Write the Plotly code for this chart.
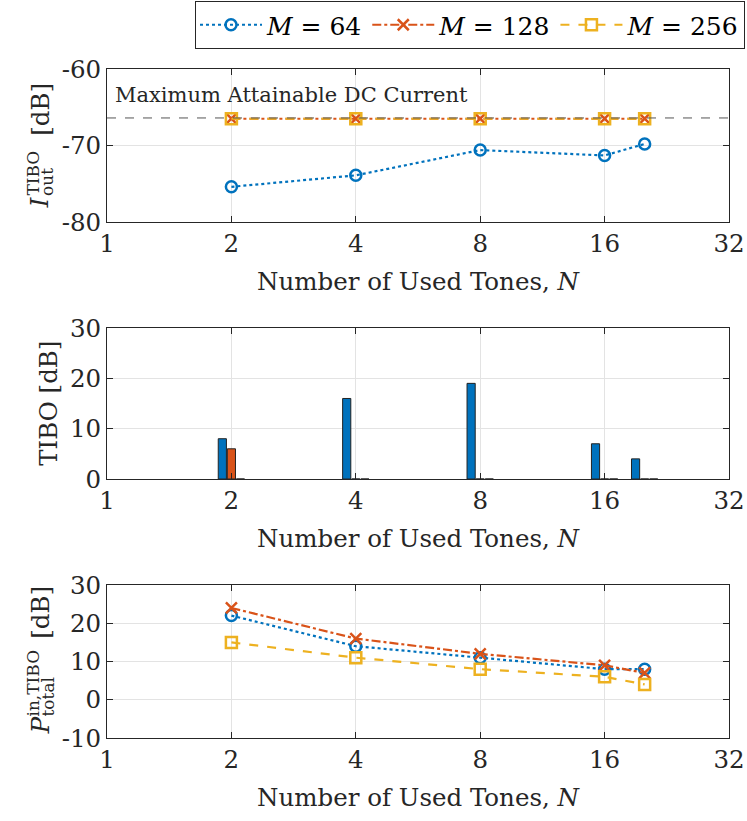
import numpy as np
import plotly.graph_objects as go
from plotly.subplots import make_subplots

# ---- data ----
N = [2, 4, 8, 16, 20]
labels = ["<i>M</i> = 64", "<i>M</i> = 128", "<i>M</i> = 256"]
I_out_64 = [-75.4, -73.9, -70.6, -71.3, -69.8]
I_out_128 = [-66.5, -66.5, -66.5, -66.5, -66.5]
I_out_256 = [-66.5, -66.5, -66.5, -66.5, -66.5]
max_dc = -66.4
TIBO_64 = [8, 16, 19, 7, 4]
TIBO_128 = [6, 0, 0, 0, 0]
TIBO_256 = [0, 0, 0, 0, 0]
P_in_64 = [22, 14, 11, 8, 8]
P_in_128 = [24, 16, 12, 9, 7]
P_in_256 = [15, 11, 8, 6, 4]
x_ticks = [1, 2, 4, 8, 16, 32]
y1_ticks = [-80, -70, -60]
y2_ticks = [0, 10, 20, 30]
y3_ticks = [-10, 0, 10, 20, 30]

colors = ["#0072BD", "#D95319", "#EDB120"]
dashes = ["dot", "dashdot", "dash"]
symbols = ["circle-open", "x-thin-open", "square-open"]

xl = np.log2(N)
FONT = "DejaVu Serif"
FS = 24.5
SFS = 17
AX = "#262626"
GRID = "#e3e3e3"

# plot-area geometry (px)
L, R, T, B = 107, 18, 69, 83
W, H = 747, 821
PW, PH = W - L - R, H - T - B


def px(xp):
    return (xp - L) / PW


def py(yp):
    return (H - B - yp) / PH


fig = make_subplots(rows=3, cols=1, vertical_spacing=0.0)

for i, ys in enumerate([I_out_64, I_out_128, I_out_256]):
    fig.add_trace(go.Scatter(
        x=xl, y=ys, mode="lines+markers", name=labels[i],
        line=dict(color=colors[i], dash=dashes[i], width=2.2),
        marker=dict(symbol=symbols[i], size=11, color=colors[i],
                    line=dict(width=2.5, color=colors[i])),
        legendgroup=str(i), showlegend=True), row=1, col=1)

for i, ys in enumerate([TIBO_64, TIBO_128, TIBO_256]):
    fig.add_trace(go.Bar(
        x=xl, y=ys, name=labels[i],
        marker=dict(color=colors[i], line=dict(color="#222222", width=1)),
        legendgroup=str(i), showlegend=False), row=2, col=1)

for i, ys in enumerate([P_in_64, P_in_128, P_in_256]):
    fig.add_trace(go.Scatter(
        x=xl, y=ys, mode="lines+markers", name=labels[i],
        line=dict(color=colors[i], dash=dashes[i], width=2.2),
        marker=dict(symbol=symbols[i], size=11, color=colors[i],
                    line=dict(width=2.5, color=colors[i])),
        legendgroup=str(i), showlegend=False), row=3, col=1)

doms = [(py(222), 1.0), (py(479), py(328)), (0.0, py(585))]
yranges = [[-80, -60], [0, 30], [-10, 30]]
yticks = [y1_ticks, y2_ticks, y3_ticks]
for r in range(3):
    k = "" if r == 0 else str(r + 1)
    fig.layout["xaxis" + k].update(
        range=[0, 5], tickmode="array", tickvals=np.log2(x_ticks), ticktext=[str(t) for t in x_ticks],
        showline=True, linecolor=AX, linewidth=1, mirror="allticks", ticks="inside", ticklen=6,
        tickcolor=AX, showgrid=True, gridcolor=GRID, zeroline=False,
        tickfont=dict(family=FONT, size=FS, color=AX), automargin=False,
        title=dict(text="Number of Used Tones, <i>N</i>", font=dict(family=FONT, size=FS, color=AX)))
    fig.layout["yaxis" + k].update(
        domain=list(doms[r]), range=yranges[r], tickmode="array", tickvals=yticks[r],
        ticktext=[str(t) for t in yticks[r]],
        showline=True, linecolor=AX, linewidth=1, mirror="allticks", ticks="inside", ticklen=6,
        tickcolor=AX, showgrid=True, gridcolor=GRID, zeroline=False, automargin=False,
        tickfont=dict(family=FONT, size=FS, color=AX))

fig.add_shape(type="line", xref="x domain", yref="y", x0=0, x1=1, y0=max_dc, y1=max_dc,
              line=dict(color="#555555", width=1, dash="dash"), layer="above")
fig.add_annotation(text="Maximum Attainable DC Current", xref="x domain", yref="y",
                   x=0.01, y=-63.4, xanchor="left", yanchor="middle", showarrow=False,
                   font=dict(family=FONT, size=21, color=AX))


def rot(text, xb, y, size, yanchor, italic=False):
    # xb: baseline x in px, y: px position along text
    t = "<i>%s</i>" % text if italic else text
    fig.add_annotation(text=t, xref="paper", yref="paper", x=px(xb + 0.236 * size),
                       y=py(y), xanchor="right", yanchor=yanchor, textangle=-90,
                       showarrow=False, borderpad=0,
                       font=dict(family=FONT, size=size, color=AX))


# y-axis titles with stacked sub/superscripts
rot("I", 50, 209, FS, "bottom", italic=True)
rot("out", 54, 197, SFS, "bottom")
rot("TIBO", 39, 197, SFS, "bottom")
rot("[dB]", 50, 82, FS, "top")
rot("TIBO [dB]", 58, 403.5, FS, "middle")
rot("P", 50, 735, FS, "bottom", italic=True)
rot("total", 54, 718, SFS, "bottom")
rot("in,TIBO", 39, 718, SFS, "bottom")
rot("[dB]", 50, 585, FS, "top")

fig.update_layout(
    width=W, height=H, margin=dict(l=L, r=R, t=T, b=B),
    paper_bgcolor="white", plot_bgcolor="white",
    barmode="group", bargap=0.32, bargroupgap=0.1,
    font=dict(family=FONT, color=AX),
    legend=dict(orientation="h", xref="container", yref="container",
                x=745 / W, xanchor="right", y=1 - 1 / H, yanchor="top",
                bordercolor=AX, borderwidth=1, bgcolor="white",
                font=dict(family=FONT, size=25, color="black"), itemwidth=62,
                tracegroupgap=0),
)

fig.write_html("out.html", config={"displayModeBar": False},
               post_script="document.body.style.margin='0';document.body.style.padding='0';")
